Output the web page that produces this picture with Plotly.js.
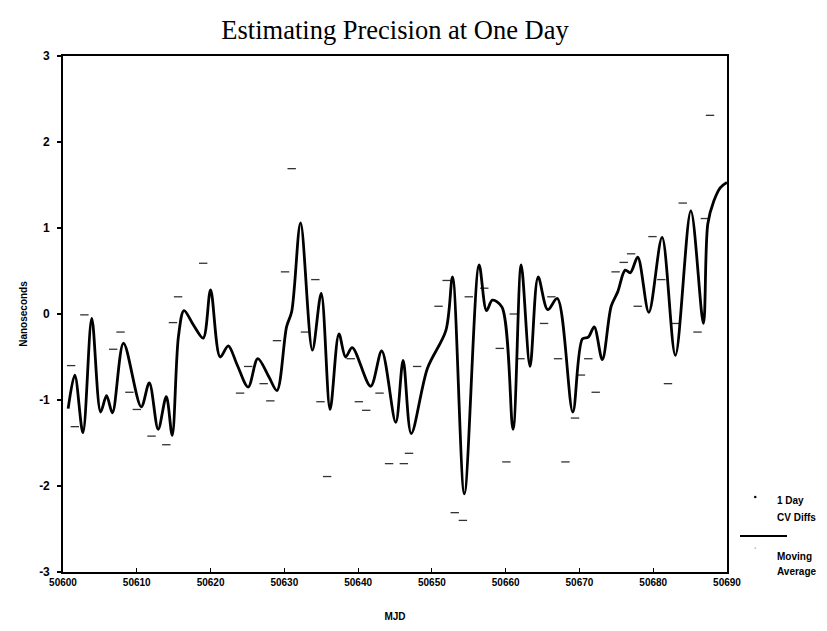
<!DOCTYPE html>
<html>
<head>
<meta charset="utf-8">
<script src="https://cdn.plot.ly/plotly-3.0.1.min.js"></script>
<style>html,body{margin:0;padding:0;background:#fff;}#chart{width:827px;height:631px;}</style>
</head>
<body>
<div id="chart"></div>
<script>
// 1 Day CV Diffs (scatter)
var cvMjd = [50601.1,50601.6,50602.9,50606.8,50607.8,50609.0,50610.0,50612.0,50614.0,50614.9,
  50615.6,50619.0,50624.0,50625.1,50627.2,50628.1,50629.0,50630.1,50631.0,50632.8,
  50634.2,50634.9,50635.8,50639.0,50640.1,50641.1,50642.9,50644.2,50646.2,50646.9,
  50648.0,50650.9,50652.0,50653.1,50654.2,50655.0,50657.1,50659.2,50660.1,50661.1,
  50662.0,50665.2,50666.2,50667.1,50668.1,50669.4,50670.2,50671.2,50672.2,50674.9,
  50676.0,50677.0,50677.9,50679.9,50681.1,50682.0,50683.1,50684.0,50686.0,50687.0,50687.7];
var cvDiffs = [-0.60,-1.31,-0.01,-0.41,-0.21,-0.91,-1.11,-1.42,-1.52,-0.10,
  0.20,0.59,-0.92,-0.61,-0.81,-1.01,-0.31,0.49,1.69,-0.21,
  0.40,-1.02,-1.89,-0.52,-1.02,-1.12,-0.92,-1.74,-1.74,-1.62,
  -0.61,0.09,0.39,-2.31,-2.40,0.20,0.30,-0.40,-1.72,0.00,
  -0.52,-0.11,0.20,-0.52,-1.72,-1.21,-0.71,-0.52,-0.91,0.49,
  0.60,0.70,0.09,0.90,0.40,-0.81,-0.11,1.29,-0.21,1.11,2.31];

// Moving Average (line)
var maMjd = [50600.7,50601.6,50602.7,50603.9,50605.1,50605.9,50606.7,50608.2,50610.6,50611.7,
  50612.9,50614.0,50614.8,50615.65,50616.4,50617.7,50619.0,50620.0,50621.3,50622.4,
  50623.6,50625.1,50626.4,50627.9,50629.0,50630.3,50631.0,50632.2,50633.8,50635.0,
  50636.2,50637.4,50638.3,50639.2,50641.7,50643.2,50645.1,50646.1,50647.2,50649.4,
  50651.9,50652.8,50654.4,50656.4,50657.4,50658.2,50659.5,50661.0,50662.1,50663.3,
  50664.4,50665.7,50667.0,50669.1,50670.4,50671.2,50672.0,50673.1,50674.3,50675.2,
  50676.2,50676.9,50677.9,50679.4,50681.2,50683.0,50685.1,50686.8,50687.4,50688.2,
  50689.1,50690.0];
var maValues = [-1.10,-0.71,-1.38,-0.05,-1.14,-0.95,-1.15,-0.34,-1.08,-0.80,
  -1.34,-0.96,-1.41,-0.26,0.04,-0.13,-0.28,0.28,-0.50,-0.37,
  -0.59,-0.85,-0.52,-0.73,-0.89,-0.15,0.03,1.06,-0.42,0.24,
  -1.11,-0.23,-0.50,-0.39,-0.84,-0.43,-1.26,-0.54,-1.39,-0.63,
  -0.19,0.43,-2.09,0.57,0.04,0.16,0.08,-1.34,0.57,-0.61,
  0.43,0.05,0.18,-1.14,-0.29,-0.27,-0.15,-0.53,0.09,0.26,
  0.51,0.48,0.66,0.02,0.89,-0.48,1.20,-0.11,1.05,1.31,
  1.47,1.53];

var xTicks = [50600,50610,50620,50630,50640,50650,50660,50670,50680,50690];
var yTicks = [-3,-2,-1,0,1,2,3];

var sansBold = {family: 'Liberation Sans, Arial, sans-serif', size: 10, color: '#000', weight: 'bold'};

var traces = [
  {
    x: cvMjd, y: cvDiffs, type: 'scatter', mode: 'markers', name: '1 Day CV Diffs',
    marker: {symbol: 'line-ew', size: 6, color: '#333', line: {width: 1.3, color: '#333'}},
    hoverinfo: 'x+y'
  },
  {
    x: maMjd, y: maValues, type: 'scatter', mode: 'lines', name: 'Moving Average',
    line: {color: '#000', width: 2.8, shape: 'spline', smoothing: 0.9},
    hoverinfo: 'x+y'
  }
];

function px(xp){ return (xp - 63) / 664; }
function py(yp){ return (572 - yp) / 516; }

var layout = {
  width: 827, height: 631,
  margin: {l: 63, r: 100, t: 56, b: 59},
  paper_bgcolor: '#fff', plot_bgcolor: '#fff',
  showlegend: false,
  title: {
    text: 'Estimating Precision at One Day',
    font: {family: 'Liberation Serif, Times New Roman, serif', size: 26.5, color: '#000'},
    x: 0.5, xref: 'paper', xanchor: 'center',
    y: 1 - 30/631, yref: 'container', yanchor: 'middle'
  },
  xaxis: {
    range: [50600, 50690], tickvals: xTicks, ticktext: xTicks.map(String),
    showgrid: false, zeroline: false, showline: true, mirror: true,
    linecolor: '#000', linewidth: 1.8,
    ticks: 'inside', ticklen: 4, tickwidth: 1.2, tickcolor: '#000',
    tickfont: sansBold,
    title: {text: 'MJD', font: sansBold, standoff: 26}
  },
  yaxis: {
    range: [-3, 3], tickvals: yTicks, ticktext: yTicks.map(String),
    showgrid: false, zeroline: false, showline: true, mirror: true,
    linecolor: '#000', linewidth: 1.8,
    ticks: 'outside', ticklen: 4, tickwidth: 1.2, tickcolor: '#000',
    ticklabelstandoff: 5,
    tickfont: {family: 'Liberation Sans, Arial, sans-serif', size: 12, color: '#000', weight: 'bold'},
    title: {text: 'Nanoseconds', font: sansBold, standoff: 10}
  },
  shapes: [
    {type: 'circle', xref: 'paper', yref: 'paper',
     x0: px(754), x1: px(756.5), y0: py(498.2), y1: py(495.8),
     fillcolor: '#000', line: {width: 0}},
    {type: 'line', xref: 'paper', yref: 'paper',
     x0: px(740), x1: px(787), y0: py(536), y1: py(536),
     line: {color: '#000', width: 2.2}},
    {type: 'circle', xref: 'paper', yref: 'paper',
     x0: px(754.5), x1: px(755.8), y0: py(548.6), y1: py(547.4),
     fillcolor: '#555', line: {width: 0}}
  ],
  annotations: [
    {text: '1 Day', xref: 'paper', yref: 'paper', x: px(775), y: py(500), xanchor: 'left', yanchor: 'middle', showarrow: false, font: sansBold},
    {text: 'CV Diffs', xref: 'paper', yref: 'paper', x: px(775), y: py(517), xanchor: 'left', yanchor: 'middle', showarrow: false, font: sansBold},
    {text: 'Moving', xref: 'paper', yref: 'paper', x: px(775), y: py(556), xanchor: 'left', yanchor: 'middle', showarrow: false, font: sansBold},
    {text: 'Average', xref: 'paper', yref: 'paper', x: px(775), y: py(571), xanchor: 'left', yanchor: 'middle', showarrow: false, font: sansBold}
  ]
};

Plotly.newPlot('chart', traces, layout, {displayModeBar: false, staticPlot: true});
</script>
</body>
</html>
